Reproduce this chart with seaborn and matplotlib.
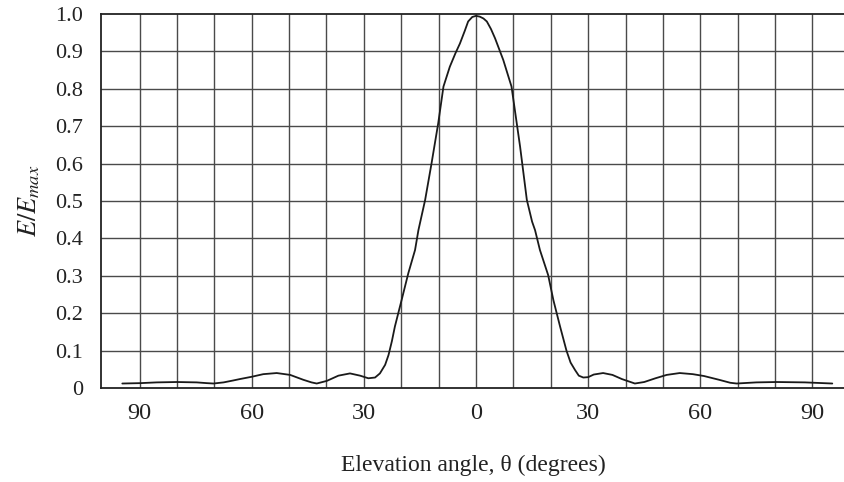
import numpy as np
import pandas as pd
import matplotlib
matplotlib.use("Agg")
import matplotlib.pyplot as plt
import seaborn as sns

# Normalised field-strength pattern versus elevation angle
angle_deg = [-94.6, -89.8, -85.4, -80, -74.7, -72, -70.2, -67.5, -65, -63.1,
             -60, -56.9, -53.3, -49.7, -46.2, -44, -42.6, -39.9, -36.8, -33.7,
             -31, -28.8, -27, -25.7, -24.3, -23.4, -22.5, -21.7, -19.9, -18.1,
             -16.3, -15.4, -13.6, -11.9, -10.1, -8.7, -7, -5.5, -4.3, -3,
             -2.1, -1, 0, 1, 2, 2.9, 4, 5.1, 7.3, 9.5,
             10.4, 11.8, 13.6, 15, 15.8, 17.1, 19.3, 20.7, 22.5, 24.2,
             25.3, 26.5, 27.5, 28.7, 30, 31.5, 34, 36.5, 39, 42.5,
             45, 48, 51, 54.5, 58, 61, 65, 68, 69.7, 75,
             80.4, 88, 95.3]
e_ratio = [0.012, 0.013, 0.015, 0.016, 0.015, 0.013, 0.012, 0.015, 0.020, 0.024,
           0.030, 0.037, 0.040, 0.035, 0.022, 0.015, 0.012, 0.019, 0.033, 0.039,
           0.033, 0.026, 0.028, 0.039, 0.062, 0.088, 0.125, 0.164, 0.235, 0.307,
           0.369, 0.422, 0.503, 0.600, 0.708, 0.806, 0.859, 0.895, 0.921, 0.955,
           0.980, 0.992, 0.995, 0.993, 0.988, 0.980, 0.960, 0.935, 0.877, 0.806,
           0.743, 0.645, 0.503, 0.445, 0.422, 0.369, 0.302, 0.235, 0.164, 0.100,
           0.068, 0.048, 0.033, 0.028, 0.029, 0.036, 0.040, 0.035, 0.024, 0.012,
           0.016, 0.026, 0.035, 0.040, 0.037, 0.032, 0.022, 0.014, 0.012, 0.015,
           0.016, 0.015, 0.012]

x_ticks = [-90, -60, -30, 0, 30, 60, 90]
x_tick_labels = ["90", "60", "30", "0", "30", "60", "90"]
y_ticks = [0, 0.1, 0.2, 0.3, 0.4, 0.5, 0.6, 0.7, 0.8, 0.9, 1.0]
y_tick_labels = ["0", "0.1", "0.2", "0.3", "0.4", "0.5", "0.6", "0.7", "0.8", "0.9", "1.0"]

df = pd.DataFrame({"angle": angle_deg, "ratio": e_ratio})

sns.set_theme(style="white")
plt.rcParams["font.family"] = ["Liberation Serif", "DejaVu Serif"]
plt.rcParams["mathtext.fontset"] = "stix"

fig = plt.figure(figsize=(8.45, 4.82), dpi=100)
ax = fig.add_axes([101 / 845, 94 / 482, 744 / 845, 374 / 482])

# grid: every 10 degrees and every 0.1
grid_color = "#4a4a4a"
for gx in range(-90, 100, 10):
    ax.axvline(gx, color=grid_color, lw=1.0, zorder=1)
for gy in np.arange(0.1, 1.0, 0.1):
    ax.axhline(gy, color=grid_color, lw=1.0, zorder=1)

sns.lineplot(data=df, x="angle", y="ratio", sort=False, estimator=None,
             color="#1a1a1a", lw=1.3, ax=ax, zorder=3)
ax.lines[-1].set_solid_joinstyle("round")

ax.set_xlim(-100.3, 98.7)
ax.set_ylim(0, 1.0)
ax.set_xticks(x_ticks)
ax.set_xticklabels(x_tick_labels, fontsize=17.5)
ax.set_yticks(y_ticks)
ax.set_yticklabels(y_tick_labels, fontsize=16)
ax.tick_params(axis="both", length=0, colors="#222222")
ax.tick_params(axis="x", pad=11)
ax.tick_params(axis="y", pad=13)

for side in ("left", "top", "bottom"):
    ax.spines[side].set_color("#222222")
    ax.spines[side].set_linewidth(1.3)
ax.spines["right"].set_visible(False)

ax.set_xlabel("Elevation angle, θ (degrees)", fontsize=17, color="#222222", labelpad=22)
ax.set_ylabel(r"$E/E_{max}$", fontsize=19, color="#222222")
ax.yaxis.set_label_coords(-0.079, 0.5)

fig.savefig("out.png", dpi=100)
